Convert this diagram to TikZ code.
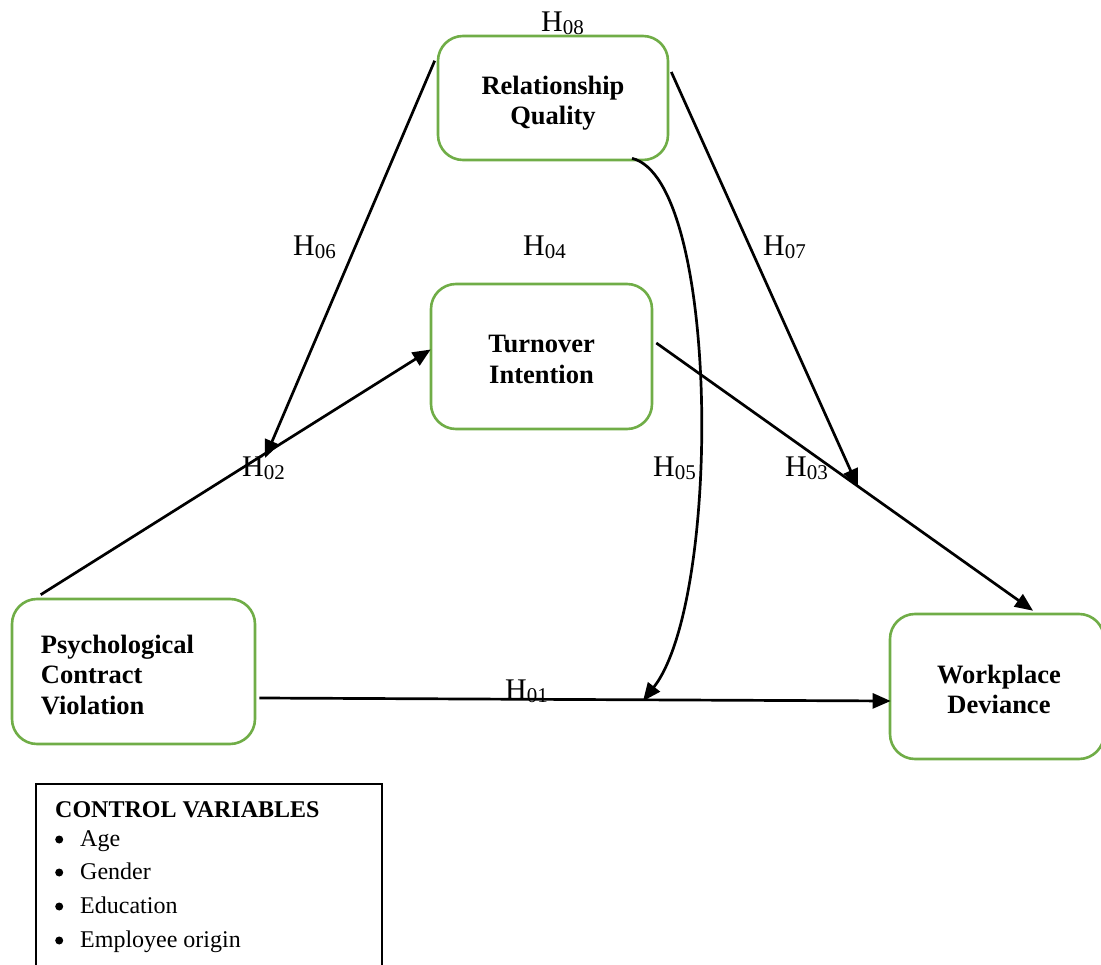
\documentclass[tikz,border=0pt]{standalone}
\usepackage{fontspec}
\setmainfont{Liberation Serif}
\usetikzlibrary{arrows.meta,calc}
\definecolor{boxgreen}{HTML}{70AD47}
\newcommand\hyp[1]{H\raisebox{-3pt}{\fontsize{21}{21}\selectfont #1}}
\newcommand\blt{\makebox[25pt][l]{\raisebox{2.5pt}{\tikz\fill[black] (0,0) circle (4pt);}}}
\tikzset{
  construct/.style={draw=boxgreen, line width=2.6pt, rounded corners=25pt, fill=white},
  ctext/.style={inner sep=0pt, font=\fontsize{26.5}{30.5}\selectfont\bfseries, align=center},
  hlabel/.style={anchor=base west, inner sep=0pt, font=\fontsize{30}{30}\selectfont},
  path/.style={draw=black, line width=2.7pt},
  arr/.style={path, -{Triangle[length=18pt,width=15pt]}},
  ctrltext/.style={anchor=base west, inner sep=0pt, font=\fontsize{24}{24}\selectfont},
}
\begin{document}
\begin{tikzpicture}[x=1pt,y=-1pt]
\useasboundingbox (0,0) rectangle (1101,965);
\clip (0,0) rectangle (1101,965);

% construct boxes
\node[construct, minimum width=230pt, minimum height=124pt] (rq) at (553,98) {};
\node[construct, minimum width=221pt, minimum height=145pt] (ti) at (541.5,356.5) {};
\node[construct, minimum width=243pt, minimum height=145pt] (pcv) at (133.5,671.5) {};
\node[construct, minimum width=214pt, minimum height=145pt] (wd) at (997,686.5) {};

% construct names
\node[ctext] (rqt) at ($(rq)+(0,5)$) {Relationship\\Quality};
\node[ctext] (tit) at ($(ti)+(0,3)$) {Turnover\\Intention};
\node[ctext, align=left, anchor=west] (pcvt) at ($(pcv.west)+(30,3.5)$) {Psychological\\Contract\\Violation};
\node[ctext] (wdt) at ($(wd)+(2,3)$) {Workplace\\Deviance};

% control variables box
\node[draw=black, line width=1.5pt, minimum width=346pt, minimum height=200pt,
  anchor=north west, inner sep=0pt] (ctrl) at (35,783) {};
\node[ctrltext, font=\fontsize{24}{24}\selectfont\bfseries] (ctitle) at (55,817) {CONTROL VARIABLES};
\node[ctrltext] (c1) at (55,846) {\blt Age};
\node[ctrltext] (c2) at (55,879) {\blt Gender};
\node[ctrltext] (c3) at (55,913) {\blt Education};
\node[ctrltext] (c4) at (55,947) {\blt Employee origin};

% free ends of connectors
\coordinate (h06end) at (265,458);
\coordinate (h07end) at (858,487);
\coordinate (h05end) at (643,701);

% connectors
\draw[arr] ($(rq.north west)+(-2,26)$) -- (h06end);
\draw[arr] ($(pcv.north west)+(30,-3)$) -- ($(ti.west)+(1,-7)$);
\draw[arr] ($(rq.east)+(2,-26)$) -- (h07end);
\draw[arr] ($(ti.east)+(3,-13.5)$) -- ($(wd.north)+(36,-2)$);
\draw[arr] ($(pcv.east)+(3,26.5)$) -- ($(wd.west)+(2,14.5)$);
\draw[arr] ($(rq.south)+(79,-3)$) .. controls (720,180) and (722,600) .. (h05end);

% hypothesis labels
\node[hlabel] (l08) at (541,32) {\hyp{08}};
\node[hlabel] (l06) at (293,256) {\hyp{06}};
\node[hlabel] (l04) at (523,256) {\hyp{04}};
\node[hlabel] (l07) at (763,256) {\hyp{07}};
\node[hlabel] (l02) at (242,477) {\hyp{02}};
\node[hlabel] (l05) at (653,477) {\hyp{05}};
\node[hlabel] (l03) at (785,477) {\hyp{03}};
\node[hlabel] (l01) at (505,699) {\hyp{01}};
\end{tikzpicture}
\end{document}
